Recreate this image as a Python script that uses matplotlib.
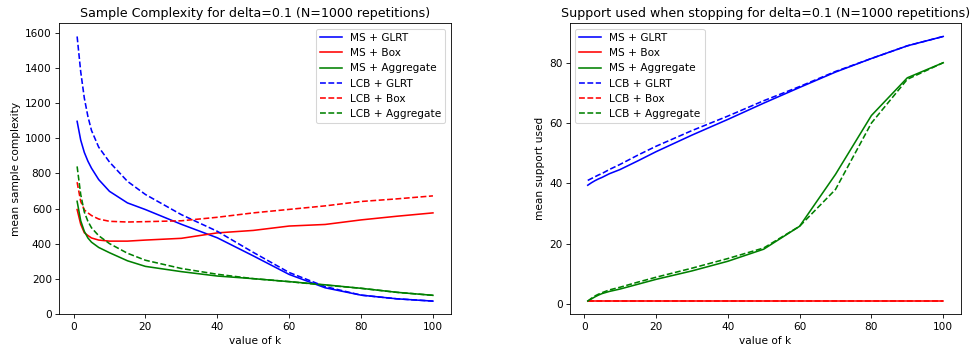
import matplotlib
matplotlib.use('Agg')
import matplotlib.pyplot as plt

# valores de k
k = [1, 2, 3, 4, 5, 7, 10, 15, 20, 30, 40, 50, 60, 70, 80, 90, 100]

# complejidad de muestra media
ms_glrt = [1097, 990, 920, 870, 830, 765, 698, 632, 594, 510, 433, 330, 224, 148, 106, 85, 72]
ms_box = [594, 510, 462, 446, 432, 420, 414, 414, 420, 430, 461, 475, 500, 509, 535, 556, 575]
ms_agg = [641, 530, 470, 432, 408, 378, 348, 302, 270, 240, 215, 200, 183, 165, 145, 122, 105]
lcb_glrt = [1581, 1380, 1230, 1125, 1045, 950, 865, 755, 680, 565, 470, 350, 235, 155, 106, 85, 72]
lcb_box = [750, 640, 592, 575, 560, 540, 527, 523, 525, 530, 550, 575, 595, 615, 640, 655, 672]
lcb_agg = [840, 680, 580, 527, 490, 445, 400, 345, 305, 258, 225, 200, 183, 163, 145, 122, 105]

# soporte usado al parar
sup_ms_glrt = [39.4, 40.2, 40.9, 41.5, 42.0, 43.2, 44.6, 47.5, 50.5, 56.0, 61.2, 66.6, 71.8, 76.9, 81.4, 85.6, 88.7]
sup_ms_box = [1] * len(k)
sup_ms_agg = [1, 1.7, 2.4, 3.0, 3.5, 4.2, 5.0, 6.6, 8.2, 11.0, 14.2, 18.2, 25.8, 43.0, 62.5, 75.0, 80.0]
sup_lcb_glrt = [41.0, 41.6, 42.2, 42.8, 43.3, 44.6, 46.3, 49.4, 52.3, 57.5, 62.3, 67.4, 72.1, 77.1, 81.4, 85.6, 88.7]
sup_lcb_box = [1] * len(k)
sup_lcb_agg = [1, 1.9, 2.7, 3.3, 3.8, 4.7, 5.6, 7.3, 8.9, 11.9, 15.1, 18.6, 25.8, 38.0, 60.0, 74.5, 80.0]

etiquetas = ['MS + GLRT', 'MS + Box', 'MS + Aggregate', 'LCB + GLRT', 'LCB + Box', 'LCB + Aggregate']
colores = ['blue', 'red', 'green', 'blue', 'red', 'green']
estilos = ['-', '-', '-', '--', '--', '--']

fig = plt.figure(figsize=(979 / 76, 352 / 76), dpi=76)
ax1 = fig.add_axes([0.0606, 0.107, 0.3998, 0.827])
ax2 = fig.add_axes([0.5822, 0.107, 0.3994, 0.827])

series1 = [ms_glrt, ms_box, ms_agg, lcb_glrt, lcb_box, lcb_agg]
for y, lab, c, ls in zip(series1, etiquetas, colores, estilos):
    ax1.plot(k, y, color=c, linestyle=ls, label=lab)
ax1.set_title('Sample Complexity for delta=0.1 (N=1000 repetitions)')
ax1.set_xlabel('value of k')
ax1.set_ylabel('mean sample complexity')
ax1.legend(loc='upper right')

series2 = [sup_ms_glrt, sup_ms_box, sup_ms_agg, sup_lcb_glrt, sup_lcb_box, sup_lcb_agg]
for y, lab, c, ls in zip(series2, etiquetas, colores, estilos):
    ax2.plot(k, y, color=c, linestyle=ls, label=lab)
ax2.set_title('Support used when stopping for delta=0.1 (N=1000 repetitions)')
ax2.set_xlabel('value of k')
ax2.set_ylabel('mean support used')
ax2.legend(loc='upper left')

fig.savefig('out.png', dpi=76)
